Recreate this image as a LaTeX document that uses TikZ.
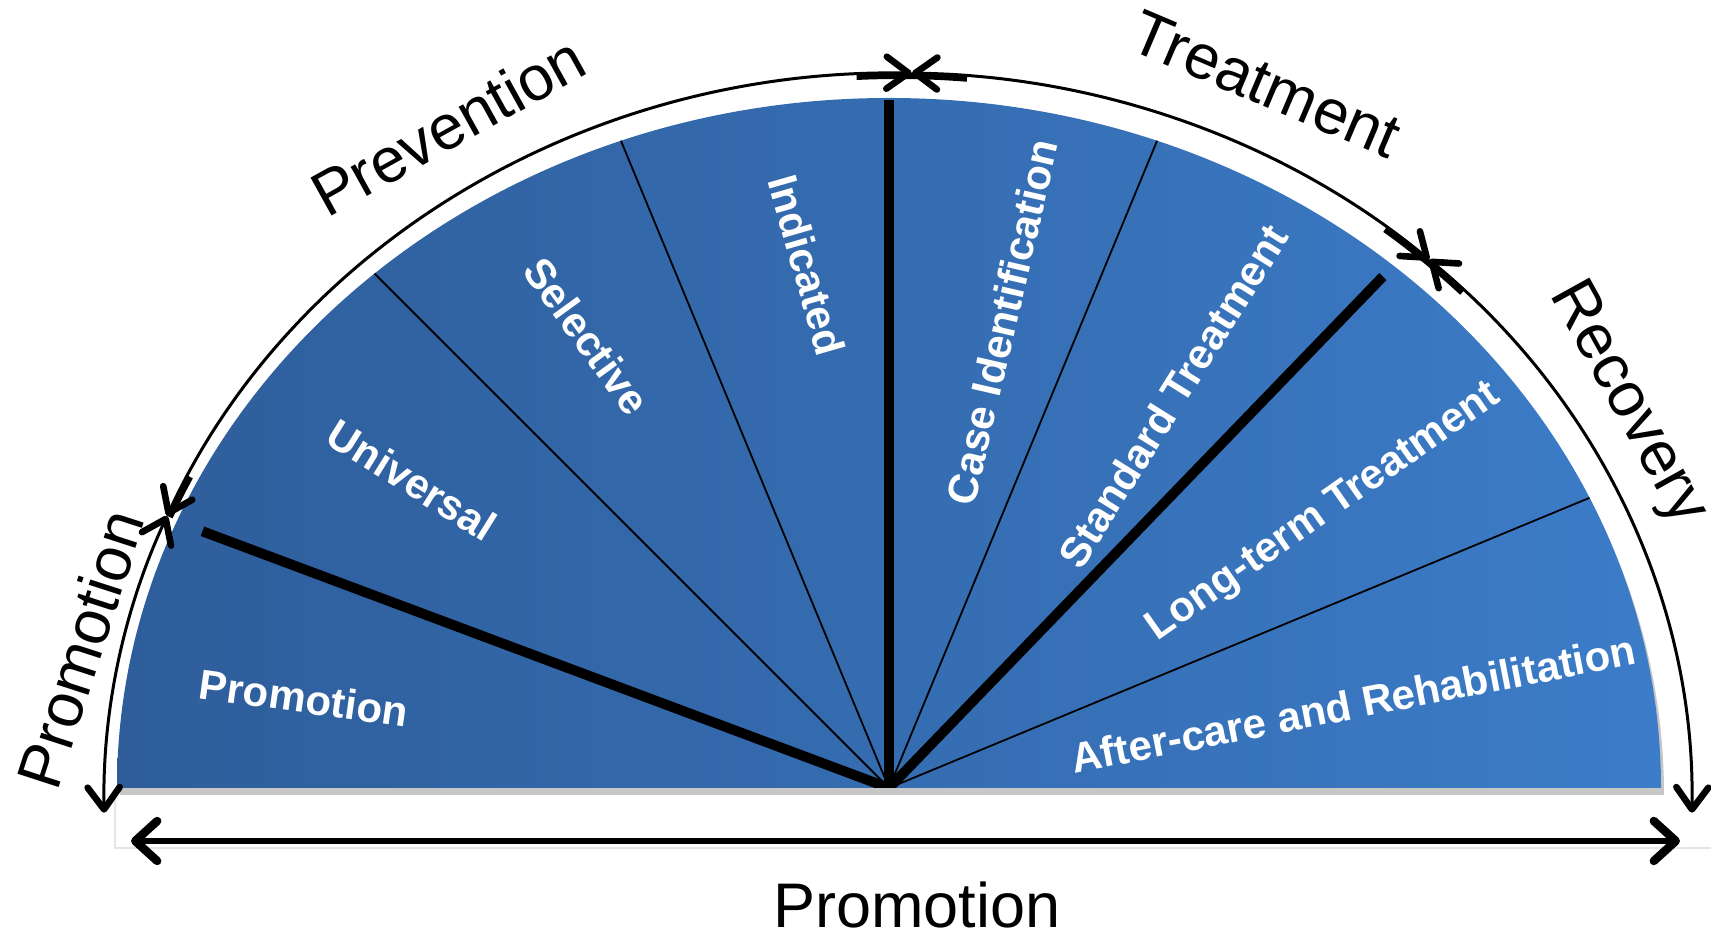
\documentclass[tikz,border=0pt]{standalone}
\usepackage{fontspec}
\setmainfont{Liberation Sans}
\usepackage{tikz}
\usetikzlibrary{arrows.meta,calc}

\definecolor{fandark}{RGB}{46,93,154}
\definecolor{fanlight}{RGB}{60,124,200}

\tikzset{
	phase/.style={font=\fontsize{63}{70}\selectfont, inner sep=0pt},
	sector/.style={font=\fontsize{42}{48}\selectfont\bfseries, text=white, inner sep=0pt},
	barb/.tip={Straight Barb[length=22pt,width=32pt,line width=0pt 2.2,round]},
	bigbarb/.tip={Straight Barb[length=22pt,width=40pt,line width=0pt 1.4,round]},
	phasearc/.style={line width=3pt, barb-barb},
	phasebar/.style={line width=6pt},
	basearrow/.style={line width=6pt, bigbarb-bigbarb},
	thindiv/.style={line width=1.8pt},
	thickdiv/.style={line width=10pt}
}

\begin{document}
\begin{tikzpicture}[x=1pt,y=1pt]
\useasboundingbox (0,0) rectangle (1711,936);

\coordinate (c) at (889,148);
\coordinate (o) at (898,136);

% faint frame and shadow
\draw[black!10, line width=2pt] (115,146) -- (115,88) -- (1711,88);
\fill[black!22] ([shift={(3,-7)}]c) ++(-772pt,0) arc[start angle=180,end angle=0,x radius=772pt,y radius=690pt] -- cycle;

% the fan
\shade[left color=fandark, right color=fanlight] (c) ++(-772pt,0) arc[start angle=180,end angle=0,x radius=772pt,y radius=690pt] -- cycle;
\begin{scope}
\clip (c) ++(-772pt,0) arc[start angle=180,end angle=0,x radius=772pt,y radius=690pt] -- cycle;
\foreach \a in {135,112.5,67.5,22.5}{
	\draw[thindiv] (c) -- ++(\a:900pt);}
\foreach \a/\r in {159.5/733,90/688,46/711}{
	\draw[thickdiv] (c) -- ++(\a:\r pt);}
\end{scope}

% sector labels
\node[sector, rotate=-8] (spromo) at (304,238) {Promotion};
\node[sector, rotate=-32] (suni) at (412,456) {Universal};
\node[sector, rotate=-54] (ssel) at (587,600) {Selective};
\node[sector, rotate=-74] (sind) at (807,671) {Indicated};
\node[sector, rotate=77] (scase) at (1002,614) {Case Identification};
\node[sector, rotate=58] (sstd) at (1173,540) {Standard Treatment};
\node[sector, rotate=35] (slong) at (1324,423) {Long-term Treatment};
\node[sector, rotate=11] (safter) at (1353,232) {After-care and Rehabilitation};

% outer phases
\draw[phasearc] ($(o)+(181:794pt and 727pt)$) arc[start angle=181,end angle=157,x radius=794pt,y radius=727pt];
\draw[phasearc] ($(o)+(157:794pt and 727pt)$) arc[start angle=157,end angle=89,x radius=794pt,y radius=727pt];
\draw[phasearc] ($(o)+(89:794pt and 727pt)$) arc[start angle=89,end angle=48,x radius=794pt,y radius=727pt];
\draw[phasearc] ($(o)+(48:794pt and 727pt)$) arc[start angle=48,end angle=-1,x radius=794pt,y radius=727pt];
\foreach \a/\b in {157/153.5,93/85,52/44.5}{
	\draw[phasebar] ($(o)+(\a:791pt and 724pt)$) arc[start angle=\a,end angle=\b,x radius=791pt,y radius=724pt];}

\node[phase, rotate=72] (ppromo) at (80,287) {Promotion};
\node[phase, rotate=29] (pprev) at (448,810) {Prevention};
\node[phase, rotate=-23] (ptreat) at (1266,852) {Treatment};
\node[phase, rotate=-61] (prec) at (1627,532) {Recovery};

% base
\coordinate (bl) at (131,95);
\coordinate (br) at (1680,95);
\draw[basearrow] (bl) -- (br);
\node[phase] (pbase) at (917,31) {Promotion};
\end{tikzpicture}
\end{document}
